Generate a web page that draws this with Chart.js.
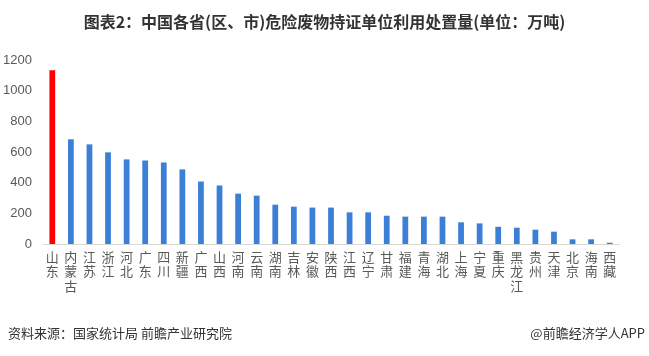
<!DOCTYPE html>
<html><head><meta charset="utf-8">
<script src="https://cdn.jsdelivr.net/npm/chart.js@4/dist/chart.umd.min.js"></script>
<style>
html,body{margin:0;padding:0;background:#fff;width:649px;height:356px;overflow:hidden;font-family:"Noto Sans CJK SC","Noto Sans",sans-serif;}
#wrap{position:absolute;left:0;top:0;width:649px;height:356px;}
#title{position:absolute;left:0;top:9px;width:649px;text-align:center;font-weight:bold;font-size:16px;color:#333;}
#src{position:absolute;left:8px;top:323px;font-size:13px;color:#333;}
#app{position:absolute;right:4px;top:323px;font-size:13px;color:#333;}
</style></head><body>
<div id="wrap"><canvas id="c" width="649" height="356"></canvas></div>
<div id="title">图表2：中国各省(区、市)危险废物持证单位利用处置量(单位：万吨)</div>
<div id="src">资料来源：国家统计局 前瞻产业研究院</div>
<div id="app">@前瞻经济学人APP</div>
<script>
const provinces = ['山东','内蒙古','江苏','浙江','河北','广东','四川','新疆','广西','山西','河南','云南','湖南','吉林','安徽','陕西','江西','辽宁','甘肃','福建','青海','湖北','上海','宁夏','重庆','黑龙江','贵州','天津','北京','海南','西藏'];
const values = [1134,683,650,598,552,545,532,487,408,382,329,316,257,244,238,238,207,207,185,179,179,179,142,135,113,107,94,81,31,31,9];
const yTicks = [0,200,400,600,800,1000,1200];
const highlight = '山东';

const labels = provinces.map(p => p.split(''));
const colors = provinces.map(p => p === highlight ? '#ff0000' : '#3b7fd7');

new Chart(document.getElementById('c'), {
  type: 'bar',
  data: { labels: labels, datasets: [{ data: values, backgroundColor: colors, barPercentage: 0.31, categoryPercentage: 1 }] },
  options: {
    responsive: false, animation: false,
    layout: { padding: { top: 60, left: 3, right: 30, bottom: 57 } },
    plugins: { legend: { display: false }, tooltip: { enabled: false } },
    scales: {
      x: {
        grid: { display: false, drawTicks: false },
        border: { color: '#d9d9d9', width: 1 },
        ticks: { autoSkip: false, maxRotation: 0, minRotation: 0, color: '#595959', padding: 6,
                 font: { family: '"Noto Sans CJK SC"', size: 13, lineHeight: 1.1 } }
      },
      y: {
        min: 0, max: 1200,
        afterBuildTicks: s => { s.ticks = yTicks.map(v => ({ value: v })); },
        afterFit: s => { s.width = 40; },
        grid: { display: false, drawTicks: false },
        border: { display: false },
        ticks: { color: '#595959', padding: 11, callback: v => String(v),
                 font: { family: '"Liberation Sans", Arial, sans-serif', size: 13 } }
      }
    }
  }
});
</script>
</body></html>
